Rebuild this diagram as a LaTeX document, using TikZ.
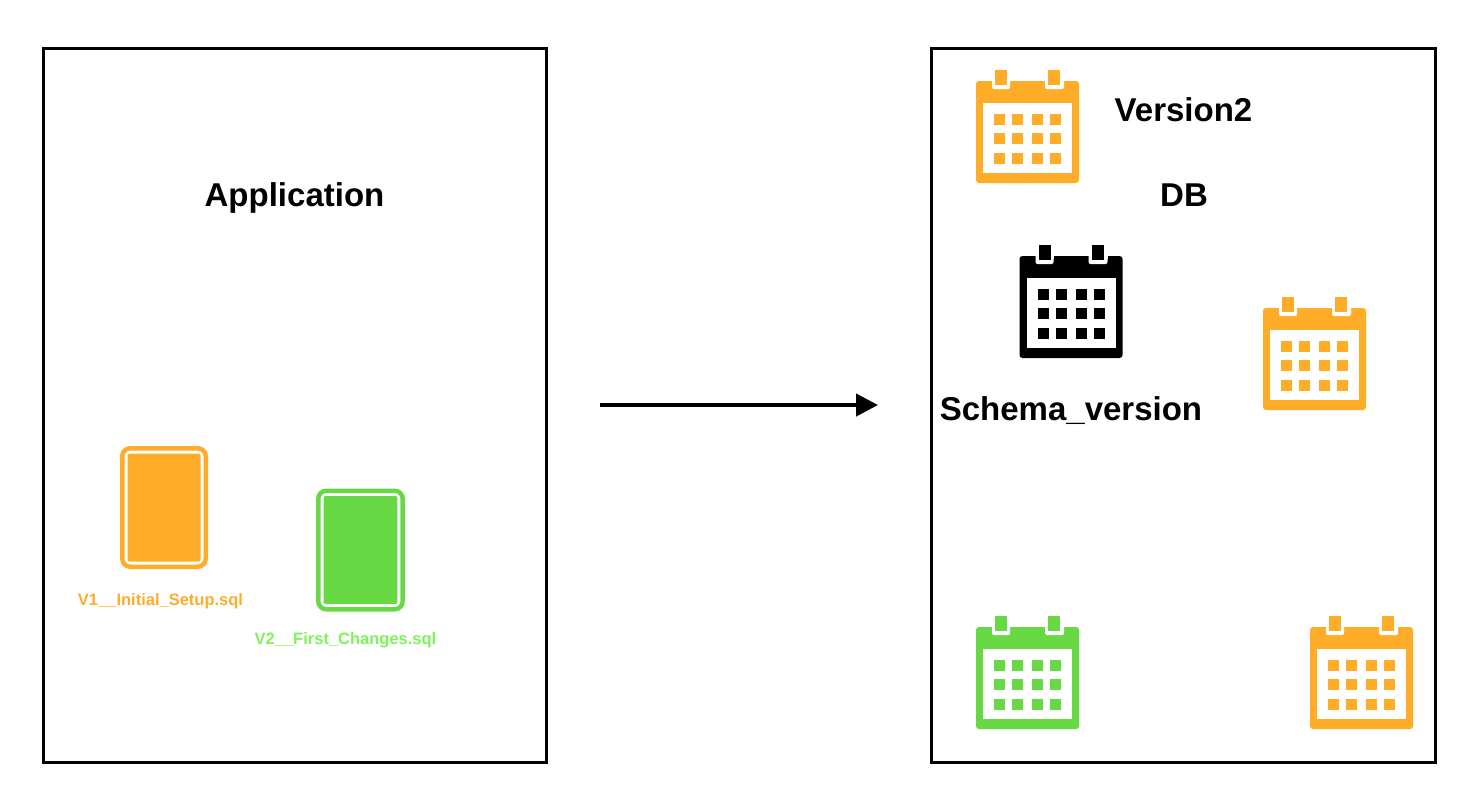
\documentclass[tikz,border=0pt]{standalone}
\usepackage{fontspec}
\setmainfont{Liberation Sans}
\usetikzlibrary{arrows.meta}
\definecolor{calorange}{HTML}{FFAD29}
\definecolor{calgreen}{HTML}{66D944}
\definecolor{lblgreen}{HTML}{80F25C}
\tikzset{
  x=1pt,y=-1pt,
  panel/.style={draw=black,line width=3.2pt,fill=white,inner sep=0pt,minimum width=#1,minimum height=714pt},
  title/.style={anchor=base,inner sep=0pt,font=\bfseries\fontsize{33}{33}\selectfont,text=black},
  filelabel/.style={anchor=base,inner sep=0pt,font=\bfseries\fontsize{16.5}{16.5}\selectfont},
  flow/.style={line width=4.5pt,-{Triangle[length=22pt,width=22pt]},shorten >=0pt},
  pics/calendar/.style={code={
    \fill[#1,rounded corners=3pt] (0,0) rectangle (103,102);
    \fill[white] (7,22) rectangle (96,92);
    \fill[white,rounded corners=2pt] (16,-2) rectangle (34,8);
    \fill[white,rounded corners=2pt] (69,-2) rectangle (88,8);
    \fill[white] (16,-2) rectangle (34,3);
    \fill[white] (69,-2) rectangle (88,3);
    \fill[#1] (19,-11) rectangle (31,4);
    \fill[#1] (72,-11) rectangle (84,4);
    \foreach \cx in {18,36,56,74}
      \foreach \cy in {33,52,72}
        \fill[#1] (\cx,\cy) rectangle ++(11,11);
  }},
  pics/sqlcard/.style={code={
    \draw[#1,line width=4.5pt,rounded corners=8pt,fill=white] (2.25,2.25) rectangle (85.75,120.75);
    \fill[#1,rounded corners=2pt] (7.5,7.5) rectangle (80.5,115.5);
  }}
}
\begin{document}
\begin{tikzpicture}
\useasboundingbox (0,0) rectangle (1474,790);
\fill[white] (0,0) rectangle (1474,790);
\node[panel=503pt] (app) at (294.75,405.25) {};
\node[panel=504pt] (db) at (1183.5,405.25) {};
\node[title] (apptitle) at (294.5,206) {Application};
\node[title] (dbtitle) at (1184,206) {DB};
\node[title] (vertitle) at (1183.5,121) {Version2};
\node[title] (schematitle) at (1071,420) {Schema\_version};
\pic at (120,446) {sqlcard=calorange};
\pic[xscale=1.011] at (316,488.5) {sqlcard=calgreen};
\node[filelabel,text=calorange] (v1) at (160.5,605) {V1\_\_Initial\_Setup.sql};
\node[filelabel,text=lblgreen] (v2) at (345.5,644) {V2\_\_First\_Changes.sql};
\pic at (976,81) {calendar=calorange};
\pic at (1019.5,256) {calendar=black};
\pic at (1263,308) {calendar=calorange};
\pic at (976,627) {calendar=calgreen};
\pic at (1310,627) {calendar=calorange};
\coordinate (from) at (600,405);
\coordinate (to) at (878,405);
\draw[flow] (from) -- (to);
\end{tikzpicture}
\end{document}
